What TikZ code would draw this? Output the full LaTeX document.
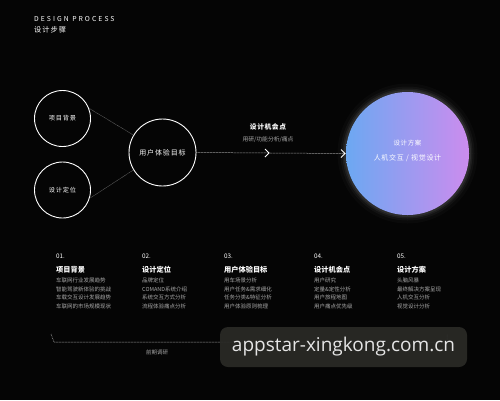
\documentclass[tikz,border=0pt]{standalone}
\usepackage{fontspec}
\setmainfont{Noto Sans CJK SC}
\newfontfamily\wmfont{Open Sans}
\usetikzlibrary{calc}
\definecolor{bg}{HTML}{050505}
\definecolor{gleft}{RGB}{108,168,242}
\definecolor{gright}{RGB}{204,140,238}
\definecolor{itemgray}{HTML}{A8A8A8}
\definecolor{wmbox}{HTML}{2A2A26}
\begin{document}
\begin{tikzpicture}[x=1pt,y=-1pt,
  ring/.style={circle, draw=white, line width=0.9pt, inner sep=0pt, text=white, align=center},
  ringtext/.style={font=\fontsize{6.2}{8}\selectfont\addfontfeatures{LetterSpace=12}},
  thinline/.style={draw=white!55!black, line width=0.4pt, dash pattern=on 0.5pt off 0.6pt},
  dotline/.style={draw=white!85!black, line width=0.5pt, dash pattern=on 0.6pt off 0.9pt},
  chev/.style={draw=white, line width=0.8pt},
  colnum/.style={anchor=west, inner sep=0pt, text=white, font=\fontsize{6.3}{7}\selectfont},
  coltitle/.style={anchor=west, inner sep=0pt, text=white, font=\fontsize{7.2}{8}\selectfont\bfseries},
  colitem/.style={anchor=north west, inner sep=0pt, text=itemgray, align=left, font=\fontsize{5.5}{8.8}\selectfont},
  small/.style={inner sep=0pt, text=white}
]
\useasboundingbox[fill=bg] (0,0) rectangle (500,400);

% header
\node[small, anchor=west, font=\fontsize{6.8}{7}\selectfont\addfontfeatures{LetterSpace=30}] (hdr1) at (34,19.5) {DESIGN PROCESS};
\node[small, anchor=west, font=\fontsize{7.2}{8}\selectfont\addfontfeatures{LetterSpace=14}] (hdr2) at (34,29.5) {设计步骤};

% circles
\node[ring, minimum size=56pt, ringtext] (c1) at (62.5,118.5) {项目背景};
\node[ring, minimum size=56pt, ringtext] (c2) at (62.5,190) {设计定位};
\node[ring, minimum size=67pt, font=\fontsize{7}{8}\selectfont\addfontfeatures{LetterSpace=12}] (c3) at (162.5,152.5) {用户体验目标};

% big gradient circle with glow
\coordinate (c4c) at (407.5,153.5);
\foreach \r/\o in {70/0.025,67/0.035,65/0.05,63.5/0.07} {
  \fill[white, opacity=\o] (c4c) circle (\r);
}
\shade[left color=gleft, right color=gright] (c4c) circle (61.5);
\node[circle, minimum size=123pt, inner sep=0pt] (c4) at (c4c) {};
\node[small, font=\fontsize{6.5}{8}\selectfont\addfontfeatures{LetterSpace=10}] (c4a) at (407.5,143.5) {设计方案};
\node[small, font=\fontsize{7}{8}\selectfont\addfontfeatures{LetterSpace=10}] (c4b) at (407.5,158) {人机交互 / 视觉设计};

% connectors
\draw[thinline] (c1.21) -- (c3.149);
\draw[thinline] (c2.-17) -- (c3.211);
\draw[dotline] (c3.east) -- (c4.west);
\coordinate (m1) at (269,153);
\coordinate (m2) at (345,153.5);
\draw[chev] ($(m1)+(-4,-4)$) -- (m1) -- ($(m1)+(-4,4)$);
\draw[chev] ($(m2)+(-4,-4)$) -- (m2) -- ($(m2)+(-4,4)$);
\node[small, font=\fontsize{6.8}{8}\selectfont\bfseries\addfontfeatures{LetterSpace=8}] (lab1) at (268,127) {设计机会点};
\node[small, text=itemgray, font=\fontsize{5.8}{7}\selectfont] (lab2) at (268,140) {用研/功能分析/痛点};

% columns
\node[colnum] (n1) at (56,256) {01.};
\node[coltitle] (t1) at (56,270) {项目背景};
\node[colitem] (i1) at (56,277.5) {车联网行业发展趋势\\智能驾驶新体验的挑战\\车载交互设计发展趋势\\车联网的市场规模现状};

\node[colnum] (n2) at (142,256) {02.};
\node[coltitle] (t2) at (142,270) {设计定位};
\node[colitem] (i2) at (142,277.5) {品牌定位\\COMAND系统介绍\\系统交互方式分析\\流程体验痛点分析};

\node[colnum] (n3) at (224,256) {03.};
\node[coltitle] (t3) at (224,270) {用户体验目标};
\node[colitem] (i3) at (224,277.5) {用车场景分析\\用户任务\&需求细化\\任务分类\&特征分析\\用户体验原则梳理};

\node[colnum] (n4) at (314,256) {04.};
\node[coltitle] (t4) at (314,270) {设计机会点};
\node[colitem] (i4) at (314,277.5) {用户研究\\定量\&定性分析\\用户旅程地图\\用户痛点优先级};

\node[colnum] (n5) at (397,256) {05.};
\node[coltitle] (t5) at (397,270) {设计方案};
\node[colitem] (i5) at (397,277.5) {头脑风暴\\最终解决方案呈现\\人机交互分析\\视觉设计分析};

% bottom bracket
\coordinate (bt) at (51,334);
\coordinate (bl) at (54,342);
\coordinate (br) at (447,342);
\coordinate (brt) at (447,334);
\draw[dotline] (bt) -- (bl) -- (br) -- (brt);
\node[small, text=itemgray, font=\fontsize{5.5}{7}\selectfont] (pre) at (157,352) {前期调研};

% watermark
\node[fill=wmbox, fill opacity=0.92, text opacity=1, rounded corners=8pt, minimum width=247pt, minimum height=40pt, inner sep=0pt, text=white!90!black, font=\wmfont\fontsize{19}{22}\selectfont] (wm) at (343.5,347) {appstar-xingkong.com.cn};
\end{tikzpicture}
\end{document}
